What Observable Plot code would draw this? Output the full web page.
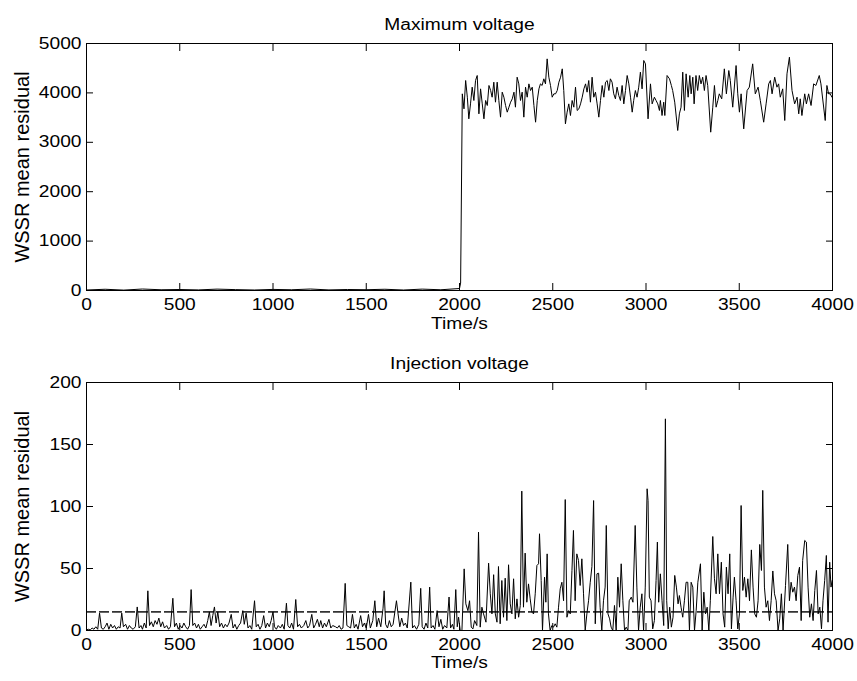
<!DOCTYPE html>
<html><head><meta charset="utf-8">
<script src="https://cdn.jsdelivr.net/npm/d3@7"></script>
<script src="https://cdn.jsdelivr.net/npm/@observablehq/plot@0.6"></script>
<style>
html,body{margin:0;padding:0;background:#fff;}
#chart{width:857px;}
#chart svg{display:block;}
</style></head><body><div id="chart"></div>
<script>
const xTicks = [0, 500, 1000, 1500, 2000, 2500, 3000, 3500, 4000];
const maxTicks = [0, 1000, 2000, 3000, 4000, 5000];
const injTicks = [0, 50, 100, 150, 200];
const titles = ["Maximum voltage", "Injection voltage"];
const xLabel = "Time/s";
const yLabel = "WSSR mean residual";
const threshold = 15;

const maxTime = [
0,100,200,300,400,500,600,700,800,900,1000,1100,1200,1300,1400,1500,1600,1700,1800,1900,2000,2006,
2015,2024,2033,2042,2050,2059,2068,2077,2086,2095,
2104,2113,2122,2131,2140,2149,2158,2167,2175,2184,
2193,2202,2211,2220,2229,2238,2247,2256,2265,2274,
2283,2292,2300,2309,2318,2327,2336,2345,2354,2363,
2372,2381,2390,2399,2408,2417,2426,2434,2443,2452,
2461,2470,2479,2488,2497,2506,2515,2524,2533,2542,
2551,2559,2568,2577,2586,2595,2604,2613,2622,2631,
2640,2649,2658,2667,2676,2684,2693,2702,2711,2720,
2729,2738,2747,2756,2765,2774,2783,2792,2801,2809,
2818,2827,2836,2845,2854,2863,2872,2881,2890,2899,
2908,2917,2926,2934,2943,2952,2961,2970,2979,2988,
2997,3011,3024,3033,3045,3054,3063,3072,3077,3086,
3095,3101,3113,3126,3136,3143,3154,3170,3179,3188,
3197,3206,3215,3226,3235,3242,3251,3258,3268,3277,
3286,3295,3304,3313,3322,3331,3347,3358,3367,3376,
3385,3393,3406,3420,3431,3444,3452,3465,3483,3492,3501,
3510,3524,3542,3554,3572,3586,3601,3613,3631,3644,
3658,3667,3676,3690,3702,3711,3720,3733,3744,3756,
3769,3783,3797,3810,3819,3827,3836,3851,3860,3872,
3885,3899,3911,3929,3938,3961,3970,3979,3988,3997
];
const maxValue = [
10,25,8,30,15,20,12,28,18,10,22,15,30,12,20,16,25,10,28,15,40,150,
3981,3677,4251,3913,3475,3778,4116,3846,4251,4352,
3576,4082,3778,3475,3846,3745,4150,4048,3913,4217,
3812,4217,3846,3509,4015,3913,3745,3610,3711,3812,
3880,4015,3711,4318,4183,3846,4015,3509,4116,3913,
4183,4048,4116,3745,3407,3846,4082,4183,4150,4285,
4183,4689,4318,4150,3913,3981,3981,4048,4217,4318,
4487,4048,3374,3610,3778,3542,3846,3711,4116,3644,
3677,3778,3913,4082,4183,4015,4251,3812,4318,3913,
4015,3778,3509,3846,4150,3913,4217,4251,4048,4285,
4217,3981,3880,4116,3947,3846,4150,3778,4048,4352,
4183,3913,3610,3846,4048,3913,4116,4420,4082,4656,
4588,3475,4183,3778,3913,3846,3778,3644,3846,3542,
3812,3542,4352,4285,4150,4048,3812,3239,3576,3711,
4420,3644,4386,3913,4352,3981,4318,3778,4352,4048,
4352,4183,4318,4048,4352,4150,3205,3711,4150,3711,
3846,3981,3880,4487,3981,4453,4251,3711,4554,3981,3610,
3981,3272,4048,4116,4588,3981,4116,3846,3407,3778,
4183,4251,3981,4318,4116,4183,3913,4082,3441,4386,
4723,4048,3778,3913,3576,3880,3542,3981,3778,3981,
3745,4183,4150,4352,4183,3441,4150,3981,3981,3913
];

const injTime = [
0,10,20,30,40,50,60,70,80,90,
100,110,120,130,140,150,160,170,180,189,
198,210,220,230,240,250,262,272,282,292,
300,310,320,329,338,348,358,368,378,388,
398,408,418,430,440,450,463,472,482,492,
502,512,522,532,542,552,561,570,580,590,
600,610,620,630,640,650,659,668,677,686,
695,704,714,724,734,744,754,764,776,786,
796,806,816,826,838,846,856,866,876,886,
901,910,920,930,940,950,960,970,980,990,
1000,1008,1018,1028,1040,1050,1060,1072,1080,1090,
1100,1110,1122,1132,1142,1152,1165,1176,1186,1196,
1208,1218,1228,1238,1248,1256,1266,1276,1286,1300,
1310,1320,1335,1345,1355,1365,1375,1387,1396,1406,
1416,1426,1436,1446,1456,1470,1480,1490,1500,1512,
1522,1535,1546,1556,1566,1578,1590,1596,1604,1614,
1624,1634,1644,1662,1670,1680,1690,1700,1710,1720,
1739,1748,1758,1770,1782,1792,1800,1810,1820,1830,
1840,1848,1858,1868,1880,1890,1900,1910,1920,1932,
1944,1952,1962,1970,1980,1988,
1995,2004,2013,2025,2034,2045,2054,2063,2072,2081,
2093,2102,2111,2120,2129,2142,2156,2165,2174,2183,
2192,2201,2209,2218,2227,2236,2245,2254,2263,2272,
2281,2290,2299,2308,2317,2326,2334,2343,2352,2361,
2370,2379,2388,2397,2406,2415,2424,2429,2438,2445,
2456,2463,2470,2477,2486,2495,2504,2513,2522,2531,
2540,2549,2558,2567,2576,2585,2594,2603,2611,2620,
2629,2638,2647,2656,2665,2674,2683,2692,2701,2710,
2719,2728,2737,2746,2754,2763,2772,2781,2787,2796,
2805,2813,2822,2831,2840,2849,2858,2867,2876,2885,
2894,2903,2910,2921,2930,2942,2951,2960,2969,2978,
2987,2996,
3006,3011,3018,3027,3036,3045,3054,3061,3068,3077,
3086,3095,3104,3111,3119,3127,3136,3145,3154,3163,
3172,3179,3188,3197,3206,3215,3224,3233,3242,3251,
3260,3269,3278,3292,3301,3310,3319,3328,3337,3345,
3358,3367,3376,3385,3394,3404,3413,3422,3431,3440,
3449,3458,3467,3474,3483,3492,3501,3510,3519,3528,
3537,3546,3555,3565,3574,3583,3592,3601,3610,3619,
3626,3635,3644,3653,3662,3671,3680,3689,3698,3708,
3717,3726,3735,3748,3760,3769,3778,3787,3796,3805,
3814,3823,3832,3840,3851,3860,3869,3878,3887,3896,
3905,3914,3923,3932,3941,3949,3958,3967,3976,3985,
3992,3998
];
const injValue = [
0.5,1,0.5,2,1,3,1,14,2,1,
3,6,1,5,2,4,1,3,2,14,
3,5,1,4,2,1,3,19,2,4,
1,6,2,32,4,7,3,8,5,10,
3,7,2,4,1,3,26,3,6,1,
4,2,6,3,1,4,33,4,6,2,
5,1,3,5,2,8,15,4,12,19,
6,15,3,6,2,5,3,6,13,2,
5,1,4,6,16,5,14,2,4,1,
24,3,5,1,4,12,2,6,3,8,
15,3,1,4,2,5,1,22,4,2,
6,1,25,3,5,2,4,8,2,4,
13,2,5,9,3,8,2,6,3,9,
2,4,3,2,4,1,2,38,4,3,
2,13,2,5,1,12,3,6,2,13,
2,8,24,3,10,3,18,32,5,2,
8,3,5,24,14,3,10,4,6,2,
39,2,4,1,5,34,3,1,6,2,
35,2,4,1,16,3,9,1,4,2,
27,2,5,1,33,3,
10.7,0,0,49.7,21.5,16,24,2.7,1.3,8,
4,79.3,2.7,18.8,13.4,6.7,54.3,29.6,13.4,45,
13.4,6.7,51.6,5.4,40.3,10.7,42.2,8,53,21.5,
13.4,41.7,9.4,25.5,10.7,20.2,112.4,18.8,62.4,22.8,
37.6,25.5,14.8,13.4,29.6,52.4,53.8,78,40.3,0,
43,22.8,61.8,13.4,0,4,2.7,5.4,2.7,18.8,
33.6,38.9,24,105.6,10.7,16,13.4,48.4,80.7,24,
61.8,56.5,36.3,57.8,29.6,0,13.4,24,38.9,51.6,
104.8,5.4,45.7,46.2,18.8,0,24,35,84.7,13.4,
9.4,2.7,0,20.2,0,43,18.8,53.8,24,0,
2.7,0,24,26.9,22.8,84.7,35,0,18.8,29.6,
0,35,
114.3,104.8,26.9,24,1.3,8,40.3,71.3,22.8,45.7,
24,4,170.7,24,1.3,18.8,2.7,10.7,44.4,35,
21.5,28.2,18.8,10.7,24,38.9,38.9,0,38.9,35,
0,16,38.9,53.8,0,30.9,13.4,18.8,0,24,
75.8,41.7,29.6,61.8,29.6,55.1,13.4,2.7,51.1,29.6,
61.8,1.3,26.9,43,24,1.3,13.4,100.8,32.3,43,
26.9,41.7,24,65,35,13.4,10.7,24,69.4,48.4,
113,35,18.8,24,8,24,48,29.6,24,0,
9.4,29.6,0,36.3,69.4,24,38.9,30.9,35,24,
44.4,51.1,8,56.5,72.6,71.3,35,10.7,21.5,8,
32.3,48.4,13.4,18.8,1.3,24,40.3,60.5,6.7,55.1,
35,40.3
];

const FONT = "'Liberation Sans', Arial, Helvetica, sans-serif";
const fmt = d => String(d);

function panel({title, time, value, yDomain, yTicks, rule, height, marginTop, marginBottom, labelDy}) {
  const data = time.map((t, i) => ({t, v: value[i]}));
  return Plot.plot({
    width: 857, height, marginLeft: 86, marginRight: 25, marginTop, marginBottom,
    style: {fontFamily: FONT, fontSize: "16px", color: "#000", background: "#fff", overflow: "visible"},
    x: {domain: [0, 4000]},
    y: {domain: yDomain},
    marks: [
      rule != null ? Plot.ruleY([rule], {stroke: "#333", strokeWidth: 1.8, strokeDasharray: "10,3"}) : null,
      Plot.line(data, {x: "t", y: "v", stroke: "#000", strokeWidth: 1}),
      Plot.frame({stroke: "#000", strokeWidth: 1}),
      Plot.axisX(xTicks, {anchor: "bottom", tickSize: -7, tickPadding: 15, tickFormat: fmt, label: null, fontSize: 16}),
      Plot.axisX(xTicks, {anchor: "top", tickSize: -7, tickFormat: () => "", label: null}),
      Plot.axisY(yTicks, {anchor: "left", tickSize: -7, tickPadding: 12, tickFormat: fmt, label: null, fontSize: 16}),
      Plot.axisY(yTicks, {anchor: "right", tickSize: -7, tickFormat: () => "", label: null}),
      Plot.text([title], {frameAnchor: "top", dy: -25, fontSize: 16, fill: "#000"}),
      Plot.text([xLabel], {frameAnchor: "bottom", dy: labelDy, fontSize: 16, fill: "#000"}),
      Plot.text([yLabel], {frameAnchor: "left", dx: -64, rotate: -90, textAnchor: "middle", fontSize: 20, fill: "#000"})
    ]
  });
}

const root = document.getElementById("chart");
const top1 = panel({title: titles[0], time: maxTime, value: maxValue, yDomain: [0, 5000], yTicks: maxTicks, rule: null, height: 340, marginTop: 43, marginBottom: 50, labelDy: 38});
const bot1 = panel({title: titles[1], time: injTime, value: injValue, yDomain: [0, 200], yTicks: injTicks, rule: threshold, height: 341, marginTop: 42, marginBottom: 51, labelDy: 37});
root.appendChild(top1);
root.appendChild(bot1);

// widen horizontal text to match the reference's wide glyphs
for (const svg of [top1, bot1]) {
  svg.querySelectorAll("text").forEach(t => {
    if (t.textContent === yLabel || !t.textContent) return;
    const len = t.getComputedTextLength();
    if (len > 0) {
      t.setAttribute("textLength", (len * 1.2).toFixed(1));
      t.setAttribute("lengthAdjust", "spacingAndGlyphs");
    }
  });
}
</script>
</body></html>
